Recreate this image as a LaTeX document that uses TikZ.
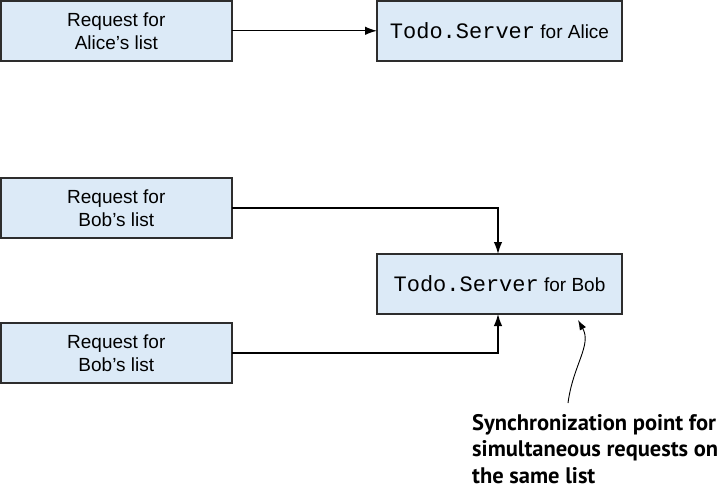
\documentclass[tikz,border=0pt]{standalone}
\usepackage{fontspec}
\setmainfont{Liberation Sans}
\newfontfamily\codefont{Liberation Mono}
\newfontfamily\notefont{PT Sans}
\usetikzlibrary{arrows.meta}
\definecolor{boxfill}{RGB}{220,234,247}
\definecolor{boxline}{RGB}{45,45,45}
\tikzset{
  box/.style={draw=boxline, line width=1.5pt, fill=boxfill, rectangle, inner sep=0pt, outer sep=0pt,
    anchor=north west, align=center, font=\fontsize{19}{23}\selectfont},
  reqbox/.style={box, minimum width=231pt, minimum height=60pt},
  srvbox/.style={box, minimum width=245pt, minimum height=60pt},
  conn/.style={line width=1.3pt, -{Latex[length=12pt,width=8.5pt]}},
}
\newcommand{\srv}{{\fontsize{22}{23}\codefont Todo.Server}}
\begin{document}
\begin{tikzpicture}[x=1pt,y=-1pt]
\useasboundingbox (0,0) rectangle (722,489);
\node[reqbox] (reqA) at (0.8,0.8) {Request for\\Alice’s list};
\node[srvbox] (srvA) at (377,0.8) {\srv{} for Alice};
\node[reqbox] (reqB1) at (0.8,178) {Request for\\Bob’s list};
\node[reqbox] (reqB2) at (0.8,323) {Request for\\Bob’s list};
\node[srvbox] (srvB) at (377,254) {\srv{} for Bob};
\draw[conn] (reqA.east) -- (srvA.west);
\draw[conn] (reqB1.east) -| (498,0 |- srvB.north);
\draw[conn] (reqB2.east) -| (498,0 |- srvB.south);
\node[anchor=north west, inner sep=0pt, align=left, font=\notefont\bfseries\fontsize{22.5}{26.5}\selectfont] (note) at (472,414)
  {Synchronization point for\\simultaneous requests on\\the same list};
\coordinate (tail) at (568,403);
\coordinate (tip) at (578,320);
\draw[line width=0.9pt, -{Latex[length=10pt,width=7pt]}] (tail) .. controls (573,365) and (592,345) .. (tip);
\end{tikzpicture}
\end{document}
